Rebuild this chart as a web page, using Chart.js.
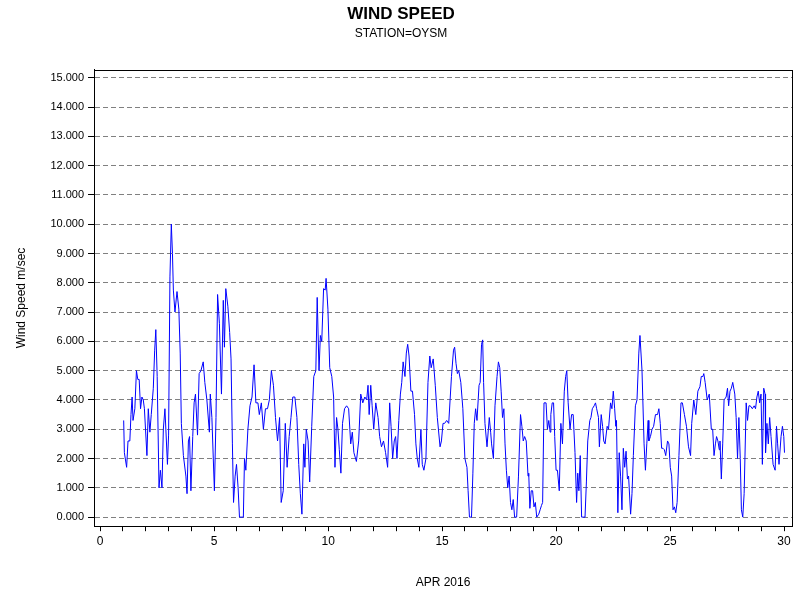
<!DOCTYPE html>
<html>
<head>
<meta charset="utf-8">
<script src="https://cdn.jsdelivr.net/npm/chart.js@4.4.0/dist/chart.umd.min.js"></script>
<style>
  html, body { margin: 0; padding: 0; background: #fff; }
  #wrap { width: 800px; height: 600px; }
</style>
</head>
<body>
<div id="wrap"><canvas id="windChart" width="800" height="600"></canvas></div>
<script>
// day of April 2016 (fractional) and wind speed in m/sec
const days = [
  1.03,1.06,1.16,1.22,1.30,1.35,1.40,1.44,1.52,1.59,1.65,1.71,1.77,1.83,1.89,1.94,2.05,2.11,2.18,2.24,
  2.33,2.39,2.44,2.50,2.58,2.64,2.71,2.77,2.84,2.95,3.00,3.06,3.12,3.17,3.21,3.28,3.37,3.45,3.51,3.56,
  3.65,3.76,3.81,3.87,3.92,3.98,4.06,4.12,4.18,4.27,4.34,4.42,4.52,4.59,4.68,4.79,4.83,4.90,5.01,5.08,
  5.15,5.23,5.32,5.40,5.45,5.51,5.60,5.68,5.74,5.80,5.85,5.92,5.98,6.05,6.11,
  6.13,6.28,6.33,6.39,6.48,6.57,6.66,6.75,6.83,6.92,6.98,7.07,7.16,7.25,7.34,7.42,7.51,7.60,7.69,7.78,
  7.87,7.94,8.03,8.12,8.20,8.29,8.37,8.45,8.54,8.63,8.71,8.78,8.85,8.93,8.98,9.04,9.12,9.19,9.28,9.37,
  9.46,9.52,9.60,9.66,9.72,9.80,9.87,9.91,9.99,10.07,10.16,10.24,10.30,10.37,10.43,10.49,10.56,10.63,10.72,10.81,
  10.90,10.99,11.06,11.13,11.24,11.34,11.43,11.52,11.61,11.69,11.75,11.80,11.87,11.93,12.00,12.09,12.19,
  12.26,12.34,12.43,12.52,12.61,12.70,12.76,12.83,12.90,12.96,13.02,13.10,13.17,13.23,13.29,13.37,13.43,13.49,13.55,13.63,
  13.70,13.79,13.85,13.91,13.98,14.07,14.13,14.20,14.29,14.38,14.46,14.52,14.61,14.70,14.79,14.91,14.97,15.04,15.11,15.20,
  15.29,15.41,15.50,15.55,15.61,15.67,15.73,15.82,15.91,16.00,16.09,16.14,16.20,16.29,16.35,16.41,16.47,16.53,16.62,16.67,
  16.73,16.78,16.82,16.88,16.97,17.03,17.07,17.13,17.17,17.25,17.32,17.41,17.47,17.53,17.59,17.65,17.71,17.76,17.82,17.88,
  17.94,18.00,18.06,18.12,18.18,
  18.27,18.35,18.44,18.50,18.56,18.62,18.69,18.77,18.80,18.85,18.91,18.97,19.03,19.09,19.15,19.24,19.30,19.36,19.41,19.47,
  19.56,19.62,19.68,19.74,19.77,19.83,19.89,19.94,20.00,20.06,20.14,20.21,20.28,20.36,20.42,20.47,20.53,20.61,20.68,20.75,
  20.83,20.90,20.95,21.00,21.06,21.12,21.20,21.27,21.33,21.39,21.48,21.53,21.59,21.67,21.73,21.78,21.86,21.90,21.98,22.04,
  22.09,22.15,22.24,22.30,22.39,22.45,22.51,22.57,22.62,22.65,22.71,22.77,22.83,22.89,22.95,23.01,23.07,23.13,23.18,23.27,
  23.33,23.39,23.48,23.55,23.63,23.68,23.77,23.86,23.92,23.98,24.04,24.07,24.14,24.21,
  24.28,24.36,24.45,24.51,24.57,24.63,24.69,24.75,24.81,24.89,24.95,25.01,25.07,25.13,25.19,25.25,25.31,25.39,25.48,25.54,
  25.63,25.72,25.81,25.90,25.95,26.04,26.13,26.22,26.31,26.37,26.44,26.48,26.54,26.63,26.72,26.81,26.87,26.93,26.99,27.04,
  27.10,27.16,27.19,27.25,27.31,27.37,27.46,27.52,27.57,27.63,27.69,27.75,27.84,27.90,27.96,28.02,28.08,28.13,28.19,28.25,
  28.34,28.40,28.46,28.52,28.61,28.69,28.75,28.81,28.87,28.93,28.99,29.05,29.11,29.17,29.19,29.25,29.31,29.37,29.43,29.52,
  29.61,29.67,29.72,29.78,29.87,29.93,29.99,30.02
];
const speeds = [
  3.3,2.2,1.7,2.6,2.6,3.5,4.1,3.3,3.7,5.0,4.7,4.7,3.7,4.1,4.0,3.7,2.1,3.7,2.9,3.5,
  4.4,5.7,6.4,4.8,1.0,1.6,1.0,3.0,3.7,1.8,2.8,8.2,10.0,9.0,7.75,7.0,7.7,7.1,5.6,3.2,
  2.1,1.4,0.8,2.6,2.75,0.9,2.75,3.9,4.2,2.8,4.9,5.0,5.3,4.6,4.0,2.9,4.2,3.4,0.9,3.4,
  7.6,6.6,4.2,7.4,5.8,7.8,7.2,6.3,5.4,2.5,0.5,1.4,1.8,1.0,0.0,
  0.0,0.0,2.0,1.6,3.0,3.8,4.1,5.2,3.9,3.9,3.5,3.9,3.0,3.7,3.7,4.0,5.0,4.5,3.4,2.6,
  3.4,0.5,0.9,3.2,1.7,2.75,3.4,4.1,4.1,3.4,1.8,0.8,0.1,2.5,1.7,3.0,2.6,1.2,3.1,4.8,
  5.0,7.5,5.0,6.2,6.0,7.8,7.75,8.15,7.1,5.1,4.8,4.1,1.7,3.4,3.0,2.3,1.5,3.2,3.7,3.8,
  3.7,2.5,2.9,2.2,1.9,2.6,4.2,3.9,4.1,4.0,4.5,3.5,4.5,3.8,3.0,3.9,3.4,
  2.75,2.4,2.6,2.2,1.7,3.9,3.1,2.0,2.6,2.75,2.0,3.3,4.2,4.6,5.3,4.8,5.6,5.9,5.5,4.3,
  4.3,3.5,2.5,2.0,1.7,3.0,1.8,1.6,2.0,4.6,5.5,5.1,5.4,4.5,3.4,2.4,2.6,3.2,3.2,3.3,
  3.2,4.8,5.7,5.8,5.25,4.9,5.0,4.6,3.7,2.0,1.7,0.9,0.0,0.0,1.5,3.2,3.7,3.3,4.5,4.6,
  5.9,6.05,4.6,3.2,2.4,3.0,3.4,2.9,2.5,2.0,3.8,4.8,5.3,5.1,4.3,3.4,3.7,2.5,1.6,1.0,
  1.4,0.5,0.25,0.6,0.0,
  0.0,1.4,3.5,3.1,2.6,2.75,2.6,1.4,1.5,0.3,0.9,0.9,0.35,0.5,0.0,0.1,0.25,0.4,0.5,3.9,
  3.9,3.0,3.3,2.9,3.5,3.9,3.9,2.75,1.6,1.6,0.9,3.2,2.5,4.3,4.8,5.0,3.9,3.0,3.5,3.5,
  2.2,0.5,1.5,0.9,2.1,0.0,0.0,0.0,1.2,2.6,3.3,3.4,3.7,3.8,3.9,3.7,3.4,2.4,3.5,3.1,
  2.6,2.5,3.1,3.0,3.9,3.7,4.3,3.7,3.1,3.3,0.15,2.2,1.4,0.25,2.35,1.7,2.25,1.3,1.4,0.1,
  0.8,2.1,3.8,4.0,5.6,6.2,5.0,2.5,1.6,2.5,3.3,2.6,2.75,3.0,
  3.1,3.5,3.5,3.7,3.2,2.35,2.35,2.3,2.1,2.6,2.5,1.7,1.4,0.25,0.35,0.15,0.5,2.1,3.9,3.9,
  3.5,3.1,2.4,2.1,3.2,4.0,3.5,4.3,4.45,4.8,4.8,4.9,4.6,4.0,4.2,3.0,3.0,2.1,2.5,2.75,
  2.6,2.3,2.6,1.3,2.5,4.0,4.1,4.4,3.8,4.3,4.4,4.6,4.2,3.4,2.0,3.4,2.0,0.25,0.0,0.8,
  3.9,3.3,3.8,3.8,3.7,3.8,3.7,4.1,4.3,3.9,4.2,1.8,4.4,4.2,2.2,3.2,2.5,3.4,2.75,1.8,
  1.6,3.1,2.5,1.8,2.75,3.1,2.75,2.2
];
const yTickValues = [0,1,2,3,4,5,6,7,8,9,10,11,12,13,14,15];

const points = days.map((d, i) => ({ x: d, y: speeds[i] }));

// frame around the plot area
const frameBox = {
  id: 'frameBox',
  afterDraw(chart) {
    const a = chart.chartArea, c = chart.ctx;
    c.save();
    c.strokeStyle = '#000';
    c.lineWidth = 1;
    c.setLineDash([]);
    c.strokeRect(Math.round(a.left) + 0.5, Math.round(a.top) + 0.5,
                 Math.round(a.right - a.left), Math.round(a.bottom - a.top));
    c.restore();
  }
};

new Chart(document.getElementById('windChart').getContext('2d'), {
  type: 'line',
  data: {
    datasets: [{
      data: points,
      borderColor: '#0000ff',
      borderWidth: 1,
      pointRadius: 0,
      tension: 0,
      fill: false
    }]
  },
  options: {
    responsive: false,
    animation: false,
    layout: { padding: { top: 4, right: 8, bottom: 6, left: 10 } },
    plugins: {
      legend: { display: false },
      tooltip: { enabled: false },
      title: {
        display: true,
        text: 'WIND SPEED',
        color: '#000',
        font: { family: 'Arial, "Liberation Sans", sans-serif', size: 17, weight: 'bold' },
        padding: { top: 0, bottom: 2 }
      },
      subtitle: {
        display: true,
        text: 'STATION=OYSM',
        color: '#000',
        font: { family: 'Arial, "Liberation Sans", sans-serif', size: 12 },
        padding: { bottom: 29 }
      }
    },
    scales: {
      x: {
        type: 'linear',
        min: -0.27,
        max: 30.35,
        afterBuildTicks: axis => {
          const t = [];
          for (let v = 0; v <= 30; v++) t.push({ value: v });
          axis.ticks = t;
        },
        ticks: {
          color: '#000',
          font: { family: 'Arial, "Liberation Sans", sans-serif', size: 12 },
          maxRotation: 0,
          autoSkip: false,
          callback: v => (v % 5 === 0 ? String(v) : '')
        },
        grid: { display: true, drawOnChartArea: false, color: '#000', tickLength: 5 },
        border: { color: '#000' },
        title: {
          display: true,
          text: 'APR 2016',
          color: '#000',
          font: { family: 'Arial, "Liberation Sans", sans-serif', size: 12 },
          padding: { top: 24 }
        }
      },
      y: {
        min: -0.31,
        max: 15.27,
        afterBuildTicks: axis => { axis.ticks = yTickValues.map(v => ({ value: v })); },
        ticks: {
          color: '#000',
          font: { family: 'Arial, "Liberation Sans", sans-serif', size: 11 },
          padding: 4,
          callback: v => v.toFixed(3)
        },
        grid: {
          color: '#808080',
          tickLength: 6,
          tickColor: '#000',
          lineWidth: 1
        },
        border: { color: '#000', dash: [5, 3] },
        title: {
          display: true,
          text: 'Wind Speed m/sec',
          color: '#000',
          font: { family: 'Arial, "Liberation Sans", sans-serif', size: 12 },
          padding: { bottom: 18 }
        }
      }
    }
  },
  plugins: [frameBox]
});
</script>
</body>
</html>
